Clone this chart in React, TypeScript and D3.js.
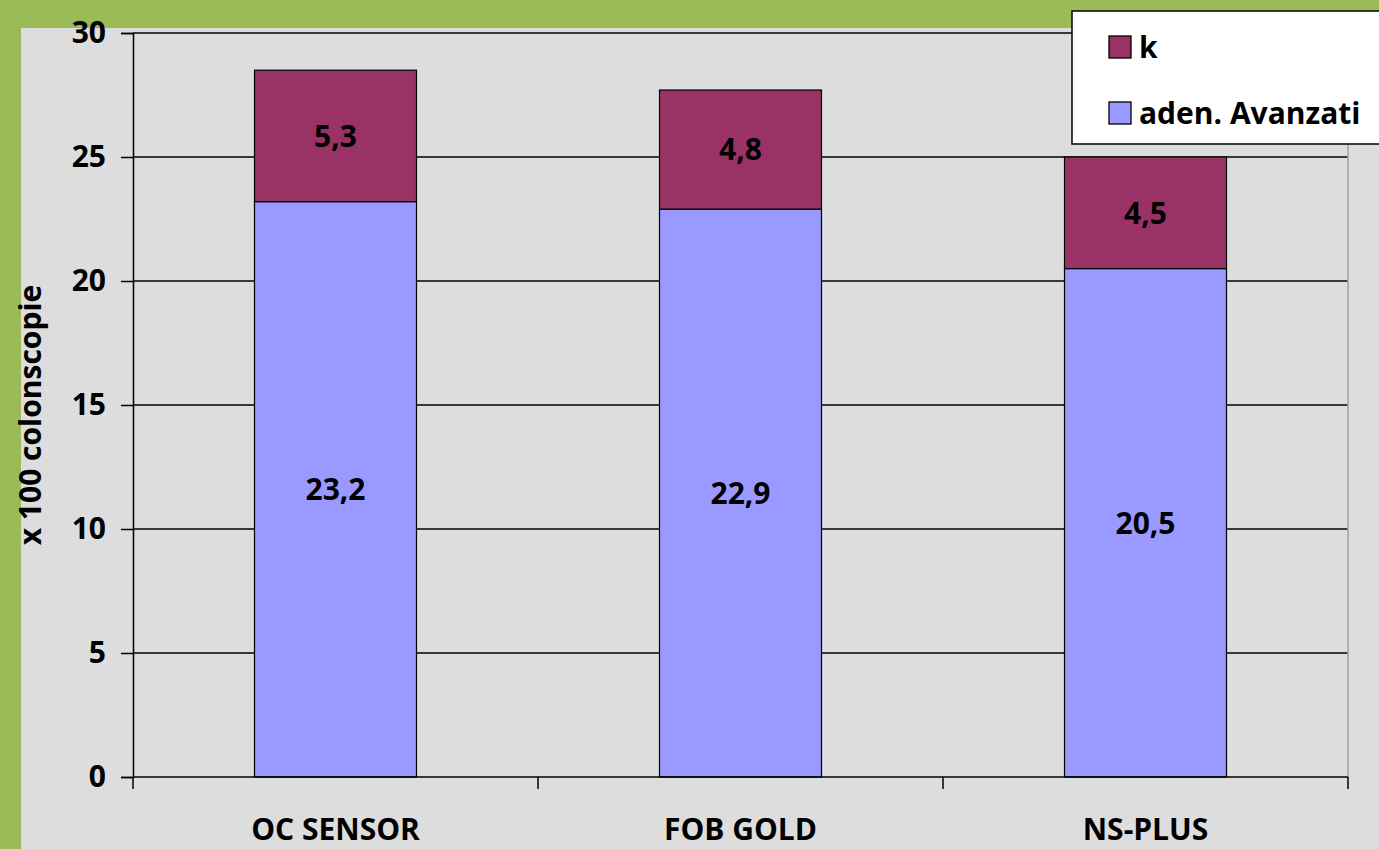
import { useEffect, useRef } from "react";
import * as d3 from "d3";

const categories = ["OC SENSOR", "FOB GOLD", "NS-PLUS"];
const adenAvanzati = [23.2, 22.9, 20.5];
const kValues = [5.3, 4.8, 4.5];
const yTicks = [0, 5, 10, 15, 20, 25, 30];
const seriesNames = ["k", "aden. Avanzati"];

const W = 1379;
const H = 849;
const FONT = "'Open Sans', 'DejaVu Sans', sans-serif";

export default function App() {
  const ref = useRef<SVGSVGElement>(null);

  useEffect(() => {
    const svg = d3.select(ref.current);
    svg.selectAll("*").remove();

    // green frame + gray panel
    svg.append("rect").attr("width", W).attr("height", H).attr("fill", "#9BBB59");
    svg.append("rect").attr("x", 21).attr("y", 28).attr("width", W - 21).attr("height", H - 28).attr("fill", "#DDDDDD");

    const left = 133, right = 1348, top = 33, bottom = 777;

    const x = d3.scaleBand().domain(categories).range([left, right]).paddingInner(0).paddingOuter(0);
    const y = d3.scaleLinear().domain([0, 30]).range([bottom, top]);
    const barW = x.bandwidth() * 0.4;

    // grid lines
    svg.append("g")
      .selectAll("line")
      .data(yTicks.filter(t => t > 0))
      .enter().append("line")
      .attr("x1", left).attr("x2", right)
      .attr("y1", d => y(d)).attr("y2", d => y(d))
      .attr("stroke", "#000").attr("stroke-width", 1.3);

    // right border of plot area
    svg.append("line")
      .attr("x1", right).attr("x2", right).attr("y1", top).attr("y2", bottom)
      .attr("stroke", "#A0A0A0").attr("stroke-width", 1.5);

    // stacked bars
    const stackData = categories.map((c, i) => ({ cat: c, aden: adenAvanzati[i], k: kValues[i] }));
    const stack = d3.stack<any>().keys(["aden", "k"])(stackData);
    const colors: Record<string, string> = { aden: "#9999FF", k: "#993366" };

    stack.forEach(layer => {
      const g = svg.append("g");
      g.selectAll("rect")
        .data(layer)
        .enter().append("rect")
        .attr("x", d => (x(d.data.cat) as number) + (x.bandwidth() - barW) / 2)
        .attr("y", d => y(d[1]))
        .attr("width", barW)
        .attr("height", d => y(d[0]) - y(d[1]))
        .attr("fill", colors[layer.key])
        .attr("stroke", "#000").attr("stroke-width", 1.2);

      g.selectAll("text")
        .data(layer)
        .enter().append("text")
        .attr("x", d => (x(d.data.cat) as number) + x.bandwidth() / 2)
        .attr("y", d => y((d[0] + d[1]) / 2))
        .attr("dy", "0.36em")
        .attr("text-anchor", "middle")
        .attr("font-family", FONT).attr("font-weight", "bold").attr("font-size", 30)
        .attr("fill", "#000")
        .text(d => String(+(d[1] - d[0]).toFixed(1)).replace(".", ","));
    });

    // y axis
    const yAxis = svg.append("g").attr("transform", `translate(${left},0)`)
      .call(d3.axisLeft(y).tickValues(yTicks).tickSize(12).tickPadding(15));
    yAxis.select(".domain").attr("stroke", "#000").attr("stroke-width", 1.5);
    yAxis.selectAll(".tick line").attr("stroke", "#000").attr("stroke-width", 1.5);
    yAxis.selectAll("text")
      .attr("font-family", FONT).attr("font-weight", "bold").attr("font-size", 30).attr("fill", "#000");

    // x axis
    const xLine = svg.append("g");
    xLine.append("line").attr("x1", left).attr("x2", right).attr("y1", bottom).attr("y2", bottom)
      .attr("stroke", "#000").attr("stroke-width", 1.5);
    const xTickPos = [...categories.map(c => x(c) as number), right];
    xLine.selectAll("line.t").data(xTickPos).enter().append("line")
      .attr("class", "t")
      .attr("x1", d => d).attr("x2", d => d).attr("y1", bottom).attr("y2", bottom + 12)
      .attr("stroke", "#000").attr("stroke-width", 1.5);
    xLine.selectAll("text").data(categories).enter().append("text")
      .attr("x", d => (x(d) as number) + x.bandwidth() / 2)
      .attr("y", 840)
      .attr("text-anchor", "middle")
      .attr("font-family", FONT).attr("font-weight", "bold").attr("font-size", 30).attr("fill", "#000")
      .text(d => d);

    // y axis title
    svg.append("text")
      .attr("transform", `translate(41,415) rotate(-90)`)
      .attr("text-anchor", "middle")
      .attr("font-family", FONT).attr("font-weight", "bold").attr("font-size", 30).attr("fill", "#000")
      .text("x 100 colonscopie");

    // legend
    const legend = svg.append("g");
    legend.append("rect")
      .attr("x", 1072).attr("y", 11).attr("width", 320).attr("height", 133)
      .attr("fill", "#fff").attr("stroke", "#000").attr("stroke-width", 1.5);
    const legendColors = [colors.k, colors.aden];
    seriesNames.forEach((name, i) => {
      const row = legend.append("g").attr("transform", `translate(1109,${36 + i * 66})`);
      row.append("rect").attr("width", 22).attr("height", 22)
        .attr("fill", legendColors[i]).attr("stroke", "#000").attr("stroke-width", 1.3);
      row.append("text").attr("x", 30).attr("y", 11).attr("dy", "0.38em")
        .attr("font-family", FONT).attr("font-weight", "bold").attr("font-size", 30).attr("fill", "#000")
        .text(name);
    });
  }, []);

  return (
    <svg ref={ref} width={W} height={H} style={{ position: "absolute", left: 0, top: 0, display: "block" }} />
  );
}
